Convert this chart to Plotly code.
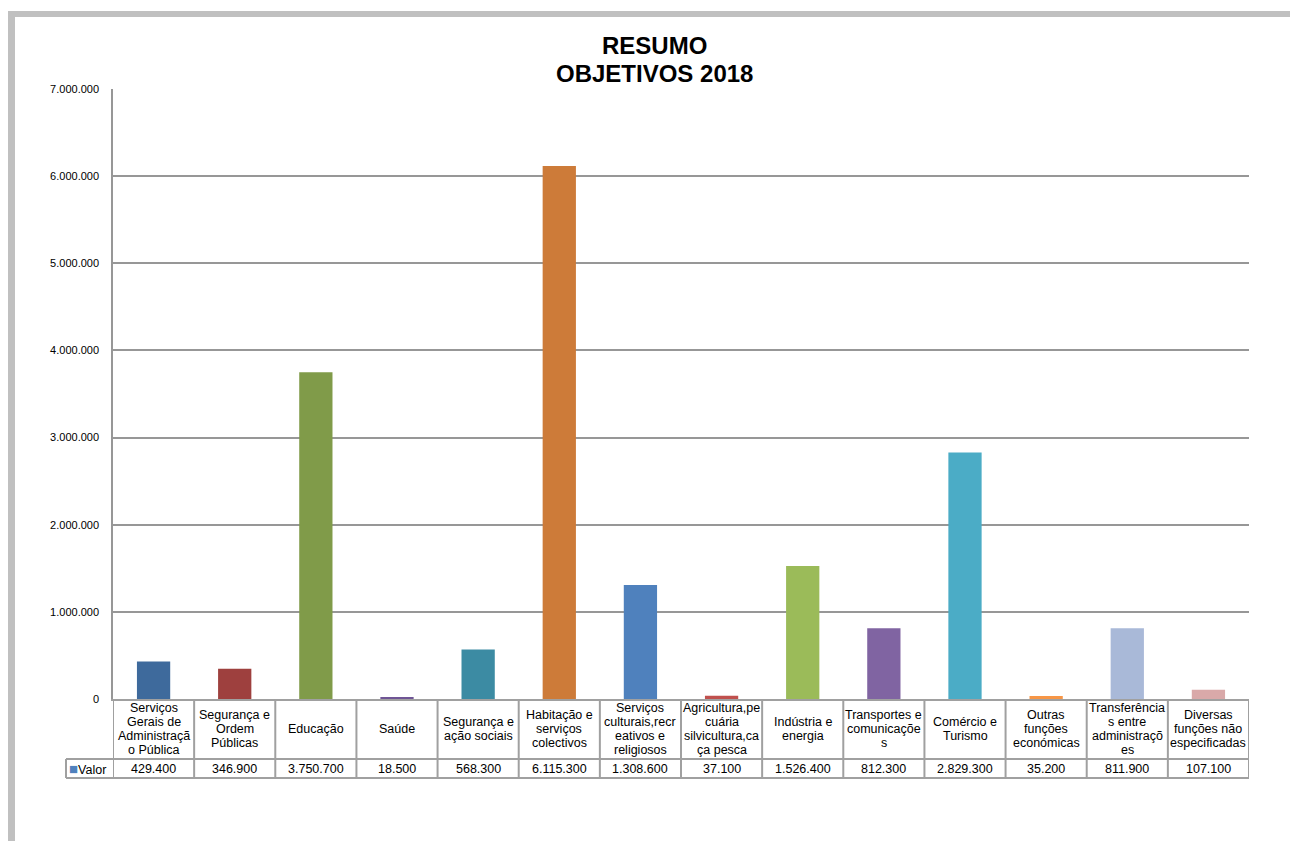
import plotly.graph_objects as go

# ---------------- data ----------------
categories = [
    "Serviços Gerais de Administração Pública",
    "Segurança e Ordem Públicas",
    "Educação",
    "Saúde",
    "Segurança e ação sociais",
    "Habitação e serviços colectivos",
    "Serviços culturais,recreativos e religiosos",
    "Agricultura,pecuária silvicultura,caça pesca",
    "Indústria e energia",
    "Transportes e comunicações",
    "Comércio e Turismo",
    "Outras funções económicas",
    "Transferências entre administrações",
    "Diversas funções não especificadas",
]
category_labels = [
    "Serviços<br>Gerais de<br>Administraçã<br>o Pública",
    "Segurança e<br>Ordem<br>Públicas",
    "Educação",
    "Saúde",
    "Segurança e<br>ação sociais",
    "Habitação e<br>serviços<br>colectivos",
    "Serviços<br>culturais,recr<br>eativos e<br>religiosos",
    "Agricultura,pe<br>cuária<br>silvicultura,ca<br>ça pesca",
    "Indústria e<br>energia",
    "Transportes e<br>comunicaçõe<br>s",
    "Comércio e<br>Turismo",
    "Outras<br>funções<br>económicas",
    "Transferência<br>s entre<br>administraçõ<br>es",
    "Diversas<br>funções não<br>especificadas",
]
values = [429400, 346900, 3750700, 18500, 568300, 6115300, 1308600,
          37100, 1526400, 812300, 2829300, 35200, 811900, 107100]
series_name = "Valor"
title_lines = ["RESUMO", "OBJETIVOS 2018"]
y_ticks = [0, 1000000, 2000000, 3000000, 4000000, 5000000, 6000000, 7000000]

bar_colors = ["#3E6A9C", "#9E403E", "#809B49", "#6F5595", "#3C8BA3", "#CD7B39",
              "#4F81BD", "#C0504D", "#9BBB59", "#8064A2", "#4BACC6", "#F79646",
              "#A9B9D8", "#D9A9A9"]

# ---------------- layout geometry (pixels) ----------------
W, H = 1290, 841
L, R, T, B = 113, 1249, 89, 699
PW, PH = R - L, B - T

def px(x):
    return (x - L) / PW

def py(y):
    return (B - y) / PH

FONT = "Liberation Sans, Arial, sans-serif"
GRID = "#979797"
TBL = "#A0A0A0"
TXT = 12.5
LINE_H = 14

def fmt(v):
    return f"{v:,}".replace(",", ".")

fig = go.Figure()
fig.add_trace(go.Bar(
    x=categories, y=values, name=series_name,
    marker=dict(color=bar_colors, line=dict(width=0)),
    showlegend=False, hoverinfo="x+y",
))

shapes = []
annotations = []

# outer gray frame (top and left bands)
shapes.append(dict(type="rect", xref="paper", yref="paper",
                   x0=px(8), x1=px(1295), y0=py(17), y1=py(11),
                   fillcolor="#C0C0C0", line=dict(width=0), layer="below"))
shapes.append(dict(type="rect", xref="paper", yref="paper",
                   x0=px(8), x1=px(15), y0=py(845), y1=py(11),
                   fillcolor="#C0C0C0", line=dict(width=0), layer="below"))

# data table
hdr_bot = py(759)
row_bot = py(778)
n = len(categories)
for i in range(n + 1):
    shapes.append(dict(type="line", xref="x", yref="paper",
                       x0=i - 0.5, x1=i - 0.5, y0=0, y1=row_bot,
                       line=dict(color=TBL, width=2)))
for yy in (hdr_bot, row_bot):
    shapes.append(dict(type="line", xref="paper", yref="paper",
                       x0=px(66), x1=1, y0=yy, y1=yy,
                       line=dict(color=TBL, width=2)))
shapes.append(dict(type="line", xref="paper", yref="paper",
                   x0=px(66), x1=px(66), y0=hdr_bot, y1=row_bot,
                   line=dict(color=TBL, width=2)))

for cat, lab, v in zip(categories, category_labels, values):
    parts = lab.split("<br>")
    k = len(parts)
    for j, part in enumerate(parts):
        yc = 729 + (j - (k - 1) / 2) * LINE_H
        annotations.append(dict(x=cat, xref="x", y=py(yc), yref="paper",
                                text=part, showarrow=False, xanchor="center",
                                yanchor="middle", align="center",
                                font=dict(family=FONT, size=TXT, color="#000")))
    annotations.append(dict(x=cat, xref="x", y=py(768.5), yref="paper",
                            text=fmt(v), showarrow=False, xanchor="center",
                            yanchor="middle",
                            font=dict(family=FONT, size=TXT, color="#000")))
annotations.append(dict(x=px(67), xref="paper", y=py(768.5), yref="paper",
                        text=f"<span style='color:#4F81BD;font-size:15px'>■</span>{series_name}",
                        showarrow=False, xanchor="left", yanchor="middle",
                        font=dict(family=FONT, size=TXT, color="#000")))

# title
for yc, line in zip((45, 73), title_lines):
    annotations.append(dict(x=px(654), xref="paper", y=py(yc), yref="paper",
                            text=f"<b>{line}</b>", showarrow=False,
                            xanchor="center", yanchor="middle",
                            font=dict(family=FONT, size=24, color="#000")))

fig.update_layout(
    width=W, height=H,
    margin=dict(l=L, r=W - R, t=T, b=H - B, pad=0),
    paper_bgcolor="white", plot_bgcolor="white",
    separators=",.",
    bargap=0.59,
    font=dict(family=FONT, color="#000"),
    xaxis=dict(range=[-0.5, n - 0.5], showticklabels=False, showgrid=False,
               showline=True, linecolor=TBL, linewidth=2, ticks="",
               zeroline=False, fixedrange=True),
    yaxis=dict(range=[0, 7000000], tickvals=y_ticks,
               ticktext=[fmt(t) for t in y_ticks],
               showgrid=True, gridcolor=GRID, gridwidth=1.5,
               showline=True, linecolor=GRID, linewidth=1.5,
               zeroline=False, ticks="", ticklabelstandoff=10,
               tickfont=dict(family=FONT, size=11, color="#000"),
               fixedrange=True),
    shapes=shapes,
    annotations=annotations,
)

fig.write_html("out.html")
